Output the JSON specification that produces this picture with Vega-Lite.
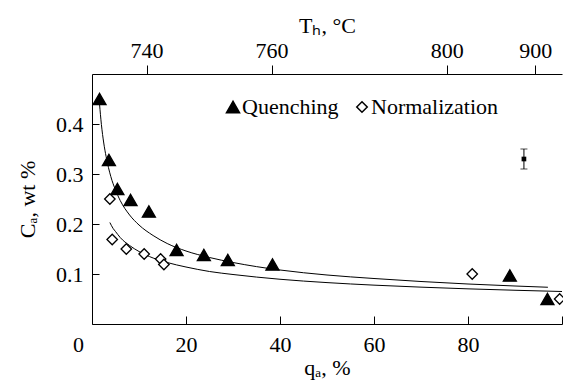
{
  "$schema": "https://vega.github.io/schema/vega-lite/v6.json",
  "width": 470,
  "height": 250,
  "autosize": {"type": "none"},
  "padding": {"left": 92, "top": 74, "right": 1, "bottom": 60},
  "background": "white",
  "config": {
    "view": {"stroke": null},
    "axis": {
      "labelFont": "Liberation Serif",
      "titleFont": "Liberation Serif",
      "labelFontSize": 22,
      "titleFontSize": 22,
      "titleFontWeight": "normal",
      "labelColor": "black",
      "titleColor": "black"
    },
    "style": {
      "guide-label": {"font": "Liberation Serif", "fontSize": 22, "fill": "black"},
      "guide-title": {"font": "Liberation Serif", "fontSize": 22, "fontWeight": "normal", "fill": "black"}
    },
    "legend": {
      "labelFont": "Liberation Serif",
      "labelFontSize": 22,
      "labelColor": "black",
      "padding": 0
    }
  },
  "resolve": {"axis": {"x": "independent", "y": "independent"}},
  "datasets": {
    "pts": [
      {"q": 1.6, "c": 0.45, "series": "Quenching"},
      {"q": 3.6, "c": 0.328, "series": "Quenching"},
      {"q": 5.4, "c": 0.27, "series": "Quenching"},
      {"q": 8.2, "c": 0.248, "series": "Quenching"},
      {"q": 12.1, "c": 0.225, "series": "Quenching"},
      {"q": 18.0, "c": 0.148, "series": "Quenching"},
      {"q": 23.8, "c": 0.138, "series": "Quenching"},
      {"q": 28.9, "c": 0.128, "series": "Quenching"},
      {"q": 38.4, "c": 0.119, "series": "Quenching"},
      {"q": 88.9, "c": 0.097, "series": "Quenching"},
      {"q": 96.9, "c": 0.05, "series": "Quenching"},
      {"q": 3.8, "c": 0.25, "series": "Normalization"},
      {"q": 4.3, "c": 0.169, "series": "Normalization"},
      {"q": 7.3, "c": 0.15, "series": "Normalization"},
      {"q": 11.1, "c": 0.14, "series": "Normalization"},
      {"q": 14.6, "c": 0.13, "series": "Normalization"},
      {"q": 15.3, "c": 0.119, "series": "Normalization"},
      {"q": 80.9, "c": 0.1, "series": "Normalization"},
      {"q": 99.5, "c": 0.05, "series": "Normalization"}
    ],
    "fit": [
      {"q": 1.6, "c": 0.44, "curve": "Q"},
      {"q": 2, "c": 0.399, "curve": "Q"},
      {"q": 2.5, "c": 0.362, "curve": "Q"},
      {"q": 3, "c": 0.335, "curve": "Q"},
      {"q": 4, "c": 0.295, "curve": "Q"},
      {"q": 5, "c": 0.268, "curve": "Q"},
      {"q": 6, "c": 0.247, "curve": "Q"},
      {"q": 8, "c": 0.218, "curve": "Q"},
      {"q": 10, "c": 0.198, "curve": "Q"},
      {"q": 13, "c": 0.177, "curve": "Q"},
      {"q": 16, "c": 0.161, "curve": "Q"},
      {"q": 20, "c": 0.146, "curve": "Q"},
      {"q": 25, "c": 0.133, "curve": "Q"},
      {"q": 30, "c": 0.123, "curve": "Q"},
      {"q": 40, "c": 0.108, "curve": "Q"},
      {"q": 50, "c": 0.098, "curve": "Q"},
      {"q": 60, "c": 0.091, "curve": "Q"},
      {"q": 70, "c": 0.085, "curve": "Q"},
      {"q": 80, "c": 0.08, "curve": "Q"},
      {"q": 90, "c": 0.076, "curve": "Q"},
      {"q": 97, "c": 0.0735, "curve": "Q"},
      {"q": 3.8, "c": 0.203, "curve": "N"},
      {"q": 4.5, "c": 0.191, "curve": "N"},
      {"q": 5, "c": 0.185, "curve": "N"},
      {"q": 6, "c": 0.173, "curve": "N"},
      {"q": 8, "c": 0.157, "curve": "N"},
      {"q": 10, "c": 0.145, "curve": "N"},
      {"q": 13, "c": 0.132, "curve": "N"},
      {"q": 16, "c": 0.123, "curve": "N"},
      {"q": 20, "c": 0.114, "curve": "N"},
      {"q": 25, "c": 0.105, "curve": "N"},
      {"q": 30, "c": 0.099, "curve": "N"},
      {"q": 40, "c": 0.0895, "curve": "N"},
      {"q": 50, "c": 0.0828, "curve": "N"},
      {"q": 60, "c": 0.0777, "curve": "N"},
      {"q": 70, "c": 0.0737, "curve": "N"},
      {"q": 80, "c": 0.0703, "curve": "N"},
      {"q": 90, "c": 0.0675, "curve": "N"},
      {"q": 100, "c": 0.065, "curve": "N"}
    ],
    "err": [
      {"q": 91.9, "c": 0.33, "lo": 0.31, "hi": 0.35}
    ]
  },
  "layer": [
    {
      "data": {"name": "fit"},
      "mark": {"type": "line", "color": "black", "strokeWidth": 1, "interpolate": "monotone"},
      "encoding": {
        "x": {
          "field": "q", "type": "quantitative",
          "scale": {"domain": [0, 100], "nice": false, "zero": false},
          "axis": {
            "orient": "top",
            "values": [11.6, 38.2, 75.5, 94.3],
            "labelExpr": "datum.value < 20 ? '740' : datum.value < 50 ? '760' : datum.value < 85 ? '800' : '900'",
            "grid": false,
            "domainColor": "black", "tickColor": "black",
            "labelFont": "Liberation Serif", "titleFont": "Liberation Serif",
            "labelFontSize": 22, "titleFontSize": 22,
            "labelFlush": false,
            "tickSize": 9,
            "labelPadding": 3,
            "title": "Tₕ, °C",
            "titlePadding": 2
          }
        },
        "y": {
          "field": "c", "type": "quantitative",
          "scale": {"domain": [0, 0.5], "nice": false, "zero": false},
          "axis": {
            "values": [0.1, 0.2, 0.3, 0.4],
            "format": ".1f",
            "grid": false,
            "domainColor": "black", "tickColor": "black",
            "labelFont": "Liberation Serif", "titleFont": "Liberation Serif",
            "labelFontSize": 22, "titleFontSize": 22,
            "tickSize": -7,
            "labelPadding": 16,
            "title": "Cₐ, wt %",
            "titlePadding": 16
          }
        },
        "detail": {"field": "curve"}
      }
    },
    {
      "data": {"name": "pts"},
      "mark": {"type": "point", "filled": false, "color": "black", "strokeWidth": 1.3, "opacity": 1},
      "encoding": {
        "x": {
          "field": "q", "type": "quantitative",
          "axis": {
            "orient": "bottom",
            "values": [0, 20, 40, 60, 80, 100],
            "labelExpr": "datum.value == 100 ? '' : datum.label",
            "grid": false,
            "domainColor": "black", "tickColor": "black",
            "labelFont": "Liberation Serif", "titleFont": "Liberation Serif",
            "labelFontSize": 22, "titleFontSize": 22,
            "labelFlush": false,
            "tickSize": -8,
            "labelPadding": 18,
            "labelOffset": {"condition": {"test": "datum.value === 0", "value": -14}, "value": 0},
            "title": "qₐ, %",
            "titlePadding": 2
          }
        },
        "y": {
          "field": "c", "type": "quantitative",
          "axis": null
        },
        "shape": {
          "field": "series", "type": "nominal",
          "scale": {"domain": ["Quenching", "Normalization"], "range": ["triangle-up", "diamond"]},
          "legend": {
            "title": null,
            "orient": "none",
            "direction": "horizontal",
            "legendX": 130,
            "legendY": 22,
            "labelOffset": -2,
            "columnPadding": 12,
            "encode": {"symbols": {"update": {"stroke": {"value": "black"}, "strokeWidth": {"value": 1.3}}}}
          }
        },
        "fill": {
          "field": "series", "type": "nominal",
          "scale": {"domain": ["Quenching", "Normalization"], "range": ["black", "white"]},
          "legend": {
            "title": null,
            "orient": "none",
            "direction": "horizontal",
            "legendX": 130,
            "legendY": 22,
            "labelOffset": -2,
            "columnPadding": 12,
            "encode": {"symbols": {"update": {"stroke": {"value": "black"}, "strokeWidth": {"value": 1.3}}}}
          }
        },
        "size": {
          "field": "series", "type": "nominal",
          "scale": {"domain": ["Quenching", "Normalization"], "range": [170, 110]},
          "legend": {
            "title": null,
            "orient": "none",
            "direction": "horizontal",
            "legendX": 130,
            "legendY": 22,
            "labelOffset": -2,
            "columnPadding": 12,
            "encode": {"symbols": {"update": {"stroke": {"value": "black"}, "strokeWidth": {"value": 1.3}}}}
          }
        }
      }
    },
    {
      "data": {"name": "err"},
      "mark": {"type": "errorbar", "ticks": {"size": 7, "color": "black"}, "color": "black"},
      "encoding": {
        "x": {"field": "q", "type": "quantitative", "axis": null},
        "y": {"field": "lo", "type": "quantitative", "axis": null},
        "y2": {"field": "hi"}
      }
    },
    {
      "data": {"name": "err"},
      "mark": {"type": "square", "color": "black", "filled": true, "size": 22, "opacity": 1},
      "encoding": {
        "x": {"field": "q", "type": "quantitative", "axis": null},
        "y": {"field": "c", "type": "quantitative", "axis": null}
      }
    }
  ]
}
